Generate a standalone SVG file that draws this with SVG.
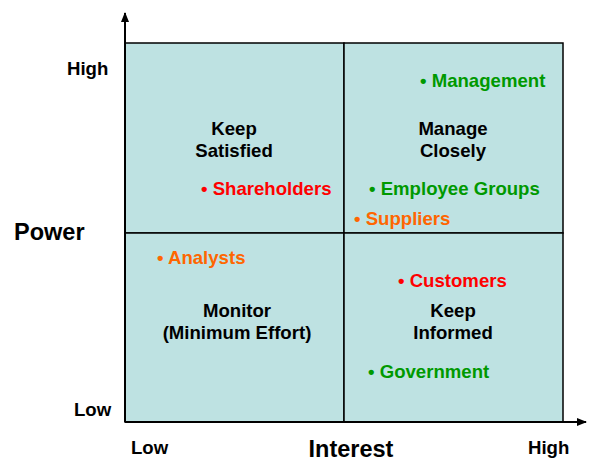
<svg xmlns="http://www.w3.org/2000/svg" width="590" height="461" viewBox="0 0 590 461">
<defs>
<marker id="ah" markerWidth="10" markerHeight="10" refX="9" refY="5" orient="auto" markerUnits="userSpaceOnUse">
<path d="M0,1 L10,5 L0,9 Z" fill="#000"/>
</marker>
<style>
text{font-family:"Liberation Sans",Arial,sans-serif;font-weight:bold;font-size:18.6px}
.big{font-size:23.5px}
.c{text-anchor:middle}
.g{fill:#009900}.o{fill:#FF6600}.r{fill:#FF0000}
.q{fill:#BEE2E2;stroke:#000;stroke-width:1.5}
</style>
</defs>
<rect width="590" height="461" fill="#fff"/>
<g id="quadrants">
<rect id="q-tl" class="q" x="125" y="43" width="219" height="190"/>
<rect id="q-tr" class="q" x="344" y="43" width="219" height="190"/>
<rect id="q-bl" class="q" x="125" y="233" width="219" height="189"/>
<rect id="q-br" class="q" x="344" y="233" width="219" height="189"/>
</g>
<g id="connectors" stroke="#000" stroke-width="2" fill="none">
<line x1="125" y1="422" x2="125" y2="13" marker-end="url(#ah)"/>
<line x1="125" y1="422" x2="586" y2="422" marker-end="url(#ah)"/>
</g>
<g id="axis-labels">
<text x="67" y="75">High</text>
<text x="74" y="416">Low</text>
<text class="big" x="14" y="240">Power</text>
<text x="131" y="454">Low</text>
<text class="big c" x="351" y="457">Interest</text>
<text x="528" y="454">High</text>
</g>
<g id="keep-satisfied"><text class="c" x="234" y="135">Keep</text><text class="c" x="234" y="157">Satisfied</text></g>
<g id="manage-closely"><text class="c" x="453" y="135">Manage</text><text class="c" x="453" y="157">Closely</text></g>
<g id="monitor"><text class="c" x="237" y="317">Monitor</text><text class="c" x="237" y="339">(Minimum Effort)</text></g>
<g id="keep-informed"><text class="c" x="453" y="317">Keep</text><text class="c" x="453" y="339">Informed</text></g>
<g id="management"><text class="g" x="420" y="87">• Management</text></g>
<g id="shareholders"><text class="r" x="201" y="195">• Shareholders</text></g>
<g id="employee-groups"><text class="g" x="369" y="195">• Employee Groups</text></g>
<g id="suppliers"><text class="o" x="354" y="225">• Suppliers</text></g>
<g id="analysts"><text class="o" x="157" y="264">• Analysts</text></g>
<g id="customers"><text class="r" x="398" y="287">• Customers</text></g>
<g id="government"><text class="g" x="368" y="378">• Government</text></g>
</svg>
